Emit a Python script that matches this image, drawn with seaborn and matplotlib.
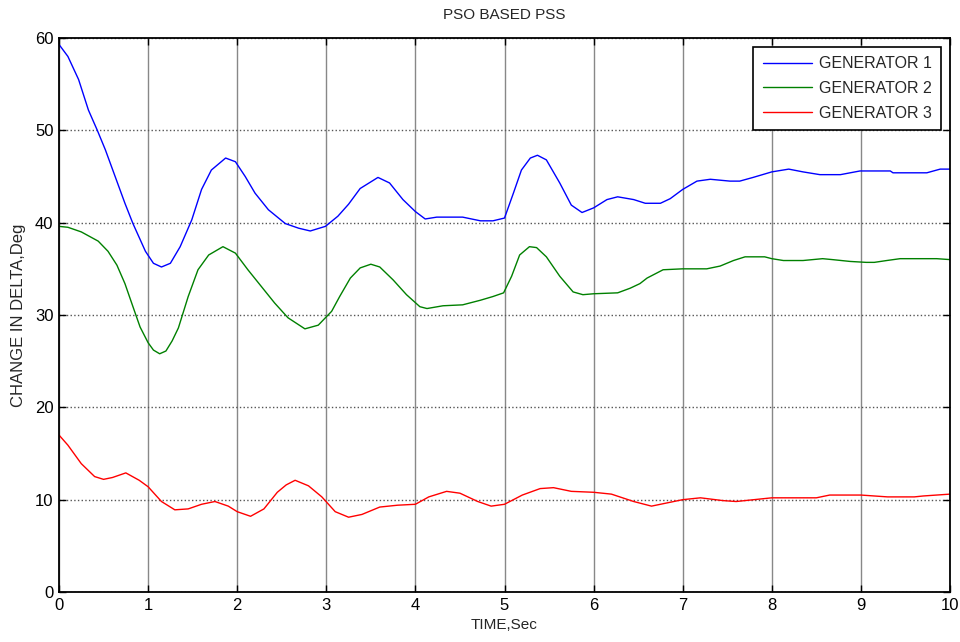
import matplotlib
matplotlib.use("Agg")
import matplotlib.pyplot as plt
import seaborn as sns
import pandas as pd

# ---- data ----
t_g1 = [0.0, 0.10, 0.22, 0.33, 0.43, 0.52, 0.63, 0.74, 0.83, 0.97, 1.06, 1.15, 1.25, 1.36,
        1.49, 1.60, 1.71, 1.87, 1.98, 2.09, 2.20, 2.35, 2.54, 2.69, 2.82, 2.99, 3.13, 3.25,
        3.38, 3.58, 3.71, 3.86, 4.00, 4.11, 4.24, 4.53, 4.73, 4.87, 5.00, 5.10, 5.19, 5.29,
        5.37, 5.47, 5.62, 5.75, 5.87, 6.00, 6.15, 6.27, 6.45, 6.58, 6.75, 6.86, 7.00, 7.16,
        7.31, 7.53, 7.64, 7.79, 8.00, 8.19, 8.35, 8.54, 8.77, 8.99, 9.33, 9.36, 9.74, 9.89, 10.0]
g1 = [59.3, 58.0, 55.5, 52.2, 50.0, 47.9, 45.0, 42.1, 39.9, 36.9, 35.6, 35.2, 35.6, 37.4,
      40.3, 43.6, 45.7, 47.0, 46.6, 45.0, 43.2, 41.4, 39.9, 39.4, 39.1, 39.6, 40.7, 42.0,
      43.7, 44.9, 44.3, 42.5, 41.2, 40.4, 40.6, 40.6, 40.2, 40.2, 40.5, 43.2, 45.7, 47.0,
      47.3, 46.8, 44.3, 41.9, 41.1, 41.6, 42.5, 42.8, 42.5, 42.1, 42.1, 42.6, 43.6, 44.5,
      44.7, 44.5, 44.5, 44.9, 45.5, 45.8, 45.5, 45.2, 45.2, 45.6, 45.6, 45.4, 45.4, 45.8, 45.8]

t_g2 = [0.0, 0.10, 0.25, 0.44, 0.55, 0.65, 0.74, 0.83, 0.91, 1.00, 1.06, 1.13, 1.20, 1.27,
        1.34, 1.45, 1.56, 1.68, 1.84, 1.98, 2.12, 2.27, 2.42, 2.57, 2.76, 2.91, 3.06, 3.15,
        3.27, 3.38, 3.50, 3.60, 3.75, 3.90, 4.05, 4.13, 4.31, 4.53, 4.73, 4.87, 4.99, 5.08,
        5.17, 5.28, 5.36, 5.47, 5.62, 5.77, 5.88, 6.00, 6.27, 6.41, 6.52, 6.60, 6.78, 7.00,
        7.27, 7.42, 7.57, 7.70, 7.92, 8.00, 8.13, 8.35, 8.57, 8.68, 8.88, 9.06, 9.15, 9.29,
        9.44, 9.85, 10.0]
g2 = [39.6, 39.5, 39.0, 38.0, 36.9, 35.4, 33.4, 30.9, 28.7, 27.0, 26.2, 25.8, 26.1, 27.2,
      28.6, 32.0, 34.9, 36.5, 37.4, 36.7, 34.9, 33.1, 31.3, 29.7, 28.5, 28.9, 30.4, 32.0,
      34.0, 35.1, 35.5, 35.2, 33.8, 32.2, 30.9, 30.7, 31.0, 31.1, 31.6, 32.0, 32.4, 34.2,
      36.5, 37.4, 37.3, 36.3, 34.2, 32.5, 32.2, 32.3, 32.4, 32.9, 33.4, 34.0, 34.9, 35.0,
      35.0, 35.3, 35.9, 36.3, 36.3, 36.1, 35.9, 35.9, 36.1, 36.0, 35.8, 35.7, 35.7, 35.9,
      36.1, 36.1, 36.0]

t_g3 = [0.0, 0.1, 0.25, 0.4, 0.5, 0.6, 0.75, 0.9, 1.0, 1.15, 1.3, 1.45, 1.6, 1.75, 1.9,
        2.0, 2.15, 2.3, 2.45, 2.55, 2.65, 2.8, 2.95, 3.1, 3.25, 3.4, 3.6, 3.8, 4.0, 4.15, 4.35,
        4.5, 4.7, 4.85, 5.0, 5.2, 5.4, 5.55, 5.75, 6.0, 6.2, 6.45, 6.65, 6.85, 7.0, 7.2,
        7.45, 7.6, 7.8, 8.0, 8.5, 8.65, 9.0, 9.3, 9.6, 9.7, 10.0]
g3 = [17.0, 15.9, 13.9, 12.5, 12.2, 12.4, 12.9, 12.1, 11.4, 9.8, 8.9, 9.0, 9.5, 9.8, 9.3,
      8.7, 8.2, 9.0, 10.8, 11.6, 12.1, 11.5, 10.3, 8.7, 8.1, 8.4, 9.2, 9.4, 9.5, 10.3, 10.9,
      10.7, 9.8, 9.3, 9.5, 10.5, 11.2, 11.3, 10.9, 10.8, 10.6, 9.8, 9.3, 9.7, 10.0, 10.2,
      9.9, 9.8, 10.0, 10.2, 10.2, 10.5, 10.5, 10.3, 10.3, 10.4, 10.6]

series_names = ["GENERATOR 1", "GENERATOR 2", "GENERATOR 3"]
x_ticks = [0, 1, 2, 3, 4, 5, 6, 7, 8, 9, 10]
y_ticks = [0, 10, 20, 30, 40, 50, 60]

df = pd.concat([
    pd.DataFrame({"t": t_g1, "v": g1, "gen": series_names[0]}),
    pd.DataFrame({"t": t_g2, "v": g2, "gen": series_names[1]}),
    pd.DataFrame({"t": t_g3, "v": g3, "gen": series_names[2]}),
], ignore_index=True)

sns.set_theme(style="white")
plt.rcParams["font.family"] = ["Liberation Sans", "DejaVu Sans"]

fig = plt.figure(figsize=(9.6, 6.42), dpi=100)
ax = fig.add_axes([59/960, 1-592/642, (950-59)/960, (592-38)/642])

palette = {series_names[0]: "#0000FF", series_names[1]: "#008000", series_names[2]: "#FF0000"}
sns.lineplot(data=df, x="t", y="v", hue="gen", palette=palette, estimator=None,
             sort=True, linewidth=1.0, ax=ax)

ax.set_xlim(0, 10)
ax.set_ylim(0, 60)
ax.set_xticks(x_ticks)
ax.set_yticks(y_ticks)
ax.tick_params(direction="in", length=5, width=1, labelsize=12, colors="black",
               top=True, right=True, bottom=True, left=True, pad=4)
ax.xaxis.grid(True, color="#888888", linestyle="-", linewidth=1.0)
ax.yaxis.grid(True, color="#555555", linestyle=":", linewidth=1.0)
for s in ax.spines.values():
    s.set_color("black")
    s.set_linewidth(1.3)

ax.set_title("PSO BASED PSS", fontsize=11, pad=14)
ax.set_xlabel("TIME,Sec", fontsize=11, labelpad=4)
ax.set_ylabel("CHANGE IN DELTA,Deg", fontsize=12, labelpad=6)

leg = ax.legend(loc="upper right", fontsize=11.5, frameon=True, fancybox=False,
                edgecolor="black", framealpha=1, handlelength=3.1, borderpad=0.6,
                labelspacing=0.6, handletextpad=0.4, borderaxespad=0.55)
leg.get_frame().set_linewidth(1.2)

fig.savefig("out.png", dpi=100)
